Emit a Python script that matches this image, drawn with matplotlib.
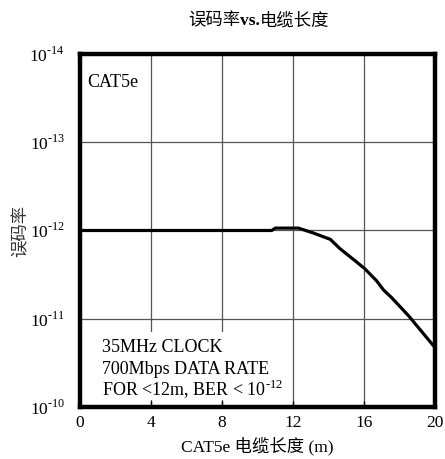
import matplotlib
matplotlib.use('Agg')
import matplotlib.pyplot as plt
from matplotlib.patches import Rectangle

plt.rcParams['font.family'] = ['Liberation Serif', 'Noto Sans CJK SC']
plt.rcParams['mathtext.fontset'] = 'custom'
plt.rcParams['mathtext.rm'] = 'Liberation Serif'

# 电缆长度 (m) 与误码率
length_m = [0, 2, 4, 6, 8, 10, 10.8, 11.0, 12.3, 13.1, 14.1, 14.65, 15.6,
            16.05, 16.7, 17.1, 17.55, 18.5, 20.0]
ber = [1.0e-12, 1.0e-12, 1.0e-12, 1.0e-12, 1.0e-12, 1.0e-12, 1.0e-12,
       0.94e-12, 0.94e-12, 1.06e-12, 1.26e-12, 1.61e-12, 2.29e-12,
       2.72e-12, 3.70e-12, 4.72e-12, 5.75e-12, 9.2e-12, 2.12e-11]

x_ticks = [0, 4, 8, 12, 16, 20]
y_ticks = [1e-14, 1e-13, 1e-12, 1e-11, 1e-10]
y_labels = ['$10^{\\mathrm{‐14}}$', '$10^{\\mathrm{‐13}}$', '$10^{\\mathrm{‐12}}$',
            '$10^{\\mathrm{‐11}}$', '$10^{\\mathrm{‐10}}$']

note_lines = ['35MHz CLOCK', '700Mbps DATA RATE', 'FOR <12m, BER < $10^{\\mathrm{‐12}}$']
note_y = [2.37e-11, 4.2e-11, 7.3e-11]

fig = plt.figure(figsize=(4.45, 4.59), dpi=100)
ax = fig.add_axes([0.18, 0.1133, 0.7975, 0.7691])

ax.plot(length_m, ber, color='black', lw=2.3, solid_joinstyle='round', zorder=3)

ax.set_yscale('log')
ax.set_ylim(1e-10, 1e-14)
ax.set_xlim(0, 20)
ax.set_xticks(x_ticks)
ax.set_yticks(y_ticks)
ax.set_yticklabels(y_labels)
ax.minorticks_off()
ax.tick_params(direction='in', length=4, width=1, labelsize=12.5, pad=6)
ax.tick_params(axis='y', length=0, pad=11)
ax.grid(True, color='#555555', lw=0.9)
for s in ax.spines.values():
    s.set_linewidth(3.2)

ax.text(0.4, 2.1e-14, 'CAT5e', fontsize=13, va='center', ha='left')

# 说明文字的白底，遮住下方网格
ax.add_patch(Rectangle((0.034, 0.02), 0.552, 0.192, transform=ax.transAxes,
                       facecolor='white', edgecolor='none', zorder=2.1))
for txt, yy in zip(note_lines, note_y):
    ax.text(1.25, yy, txt, fontsize=13, va='baseline', ha='left', zorder=2.2)

# 标题：中间的 vs. 用粗体
t1 = fig.text(0.422, 0.945, '误码率', fontsize=12.5, ha='left', va='baseline')
t2 = ax.annotate('vs.', xy=(1, 0), xycoords=t1, fontsize=12.5, fontweight='bold',
                 ha='left', va='bottom')
ax.annotate('电缆长度', xy=(1, 0), xycoords=t2, fontsize=12.5, ha='left', va='bottom')

ax.set_xlabel('CAT5e 电缆长度 (m)', fontsize=12.5, labelpad=4)
ax.set_ylabel('误码率', fontsize=12.5, labelpad=0, color='#333333')

fig.savefig('out.png', dpi=100)
